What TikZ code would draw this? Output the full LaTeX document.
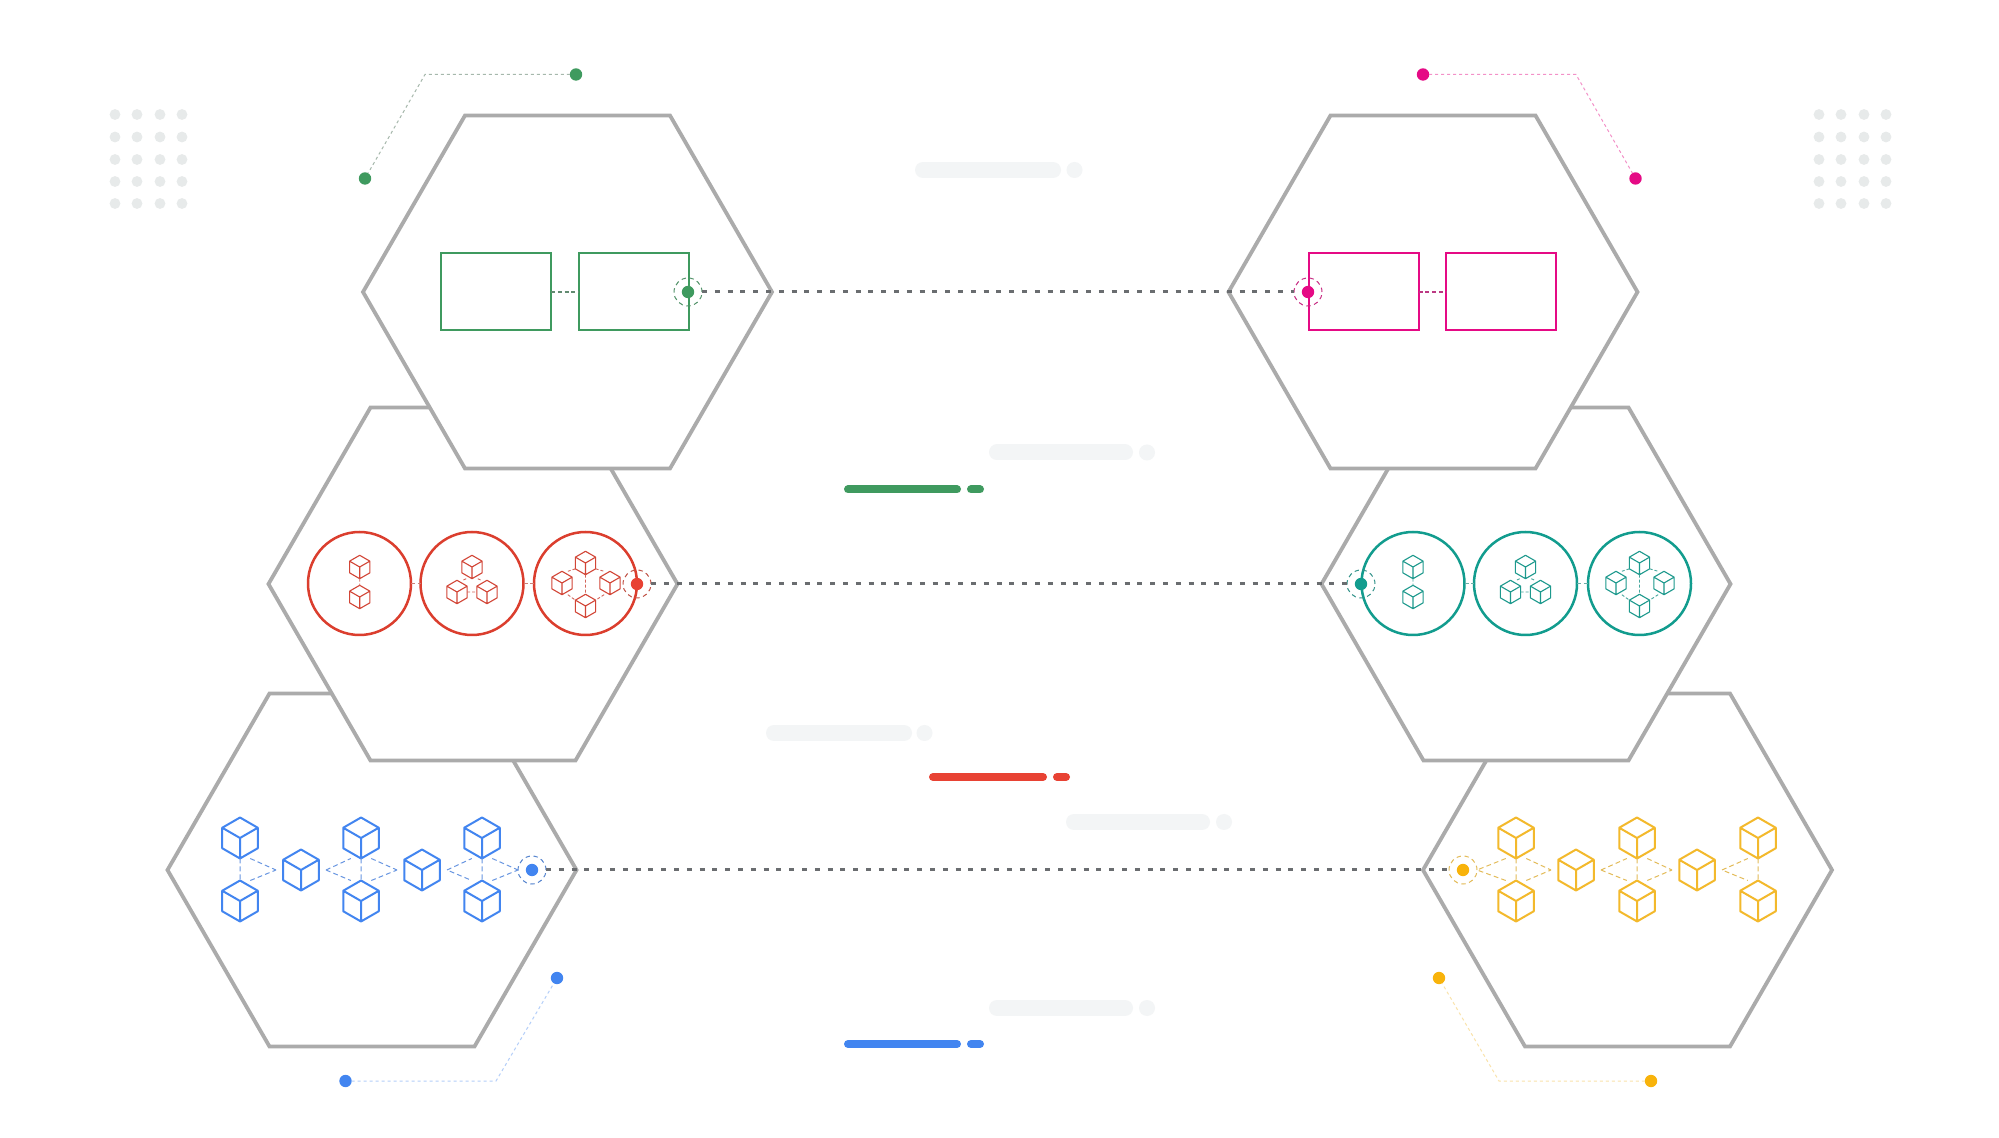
\documentclass[tikz,border=0pt]{standalone}
\usetikzlibrary{calc}
\definecolor{hexgray}{HTML}{ABABAB}
\definecolor{midline}{HTML}{6A6D70}
\definecolor{pale}{HTML}{F3F5F6}
\definecolor{griddot}{HTML}{E7EAEA}
\definecolor{cgreen}{HTML}{3F9A5F}
\definecolor{cpink}{HTML}{E50A85}
\definecolor{cred}{HTML}{DB3E2E}
\definecolor{cbright}{HTML}{E84233}
\definecolor{cteal}{HTML}{129C8E}
\definecolor{cblue}{HTML}{4285F0}
\definecolor{cyellow}{HTML}{F3B92C}
\definecolor{cgold}{HTML}{F8B30B}
\tikzset{
  x=0.5pt,y=-0.5pt,
  hexa/.style={draw=hexgray,line width=1.9pt,fill=white,miter limit=10},
  pipe/.style={draw=midline,line width=1.5pt,dash pattern=on 2.5pt off 3.9pt},
  dotnode/.style={circle,fill=#1,draw=none,inner sep=0pt,outer sep=0pt,minimum size=6.2pt},
  ringnode/.style={circle,draw=#1,line width=.5pt,dash pattern=on 2.2pt off 1.8pt,inner sep=0pt,outer sep=0pt,minimum size=14pt},
  boxnode/.style={draw=#1,line width=1pt,inner sep=0pt,outer sep=0pt,minimum width=55pt,minimum height=38.5pt},
  roundnode/.style={circle,draw=#1,line width=1.25pt,inner sep=0pt,outer sep=0pt,minimum size=51.5pt},
  callout/.style={draw=#1,line width=.5pt,dash pattern=on 1.5pt off 1.5pt},
  link/.style={draw=#1,line width=.6pt,dash pattern=on 2pt off 1.4pt},
  griddotfill/.style={fill=griddot,draw=none},
  pics/cubeicon/.style n args={3}{code={
    \def\rr{#1}
    \coordinate (-n) at (0,-\rr);
    \coordinate (-s) at (0,\rr);
    \coordinate (-ne) at (.866*\rr,-.5*\rr);
    \coordinate (-se) at (.866*\rr,.5*\rr);
    \coordinate (-nw) at (-.866*\rr,-.5*\rr);
    \coordinate (-sw) at (-.866*\rr,.5*\rr);
    \coordinate (-tl) at (-.5*\rr,-\rr);
    \coordinate (-tr) at (.5*\rr,-\rr);
    \coordinate (-bl) at (-.5*\rr,\rr);
    \coordinate (-br) at (.5*\rr,\rr);
    \coordinate (-w) at (-1.22*\rr,0);
    \coordinate (-e) at (1.22*\rr,0);
    \coordinate (-iw) at (-.866*\rr,0);
    \coordinate (-ie) at (.866*\rr,0);
    \draw[#2,line width=#3,line join=round]
      (-n) -- (-ne) -- (-se) -- (-s) -- (-sw) -- (-nw) -- cycle
      (-nw) -- (0,0) -- (-ne) (0,0) -- (-s);
  }},
}
\newcommand{\hexat}[2]{\begin{scope}[shift={(#1,#2)}]
  \draw[hexa] (-204.5,0) -- (-102.5,-176.5) -- (102.5,-176.5) -- (204.5,0) -- (102.5,176.5) -- (-102.5,176.5) -- cycle;
\end{scope}}
\newcommand{\pillbar}[5]{\draw[#5,line cap=round,line width=#4*.5pt] ({#1+#4/2},#3) -- ({#2-#4/2},#3);}
\begin{document}
\begin{tikzpicture}
\useasboundingbox (0,0) rectangle (1999,1138);
\fill[white] (0,0) rectangle (1999,1138);

% dot grids
\foreach \gx in {115,137,160,182,1819,1841,1864,1886}
  \foreach \gy in {114.5,137,159.5,181.5,203.5}
    \fill[griddotfill] (\gx,\gy) circle (2.7pt);

% hexagons, lowest first
\hexat{372}{870}
\hexat{1627.5}{870}
\hexat{473}{584}
\hexat{1526}{584}
\hexat{567.5}{292}
\hexat{1433}{292}

% pale pills
\pillbar{915}{1061}{170}{16}{pale}
\fill[pale] (1074.5,170) circle (4pt);
\pillbar{989}{1133}{452.5}{16}{pale}
\fill[pale] (1147,452.5) circle (4pt);
\pillbar{766}{912}{733}{16}{pale}
\fill[pale] (924.5,733) circle (4pt);
\pillbar{1066}{1210}{822}{16}{pale}
\fill[pale] (1224,822) circle (4pt);
\pillbar{989}{1133}{1008}{16}{pale}
\fill[pale] (1147,1008) circle (4pt);

% coloured bars
\pillbar{844}{961}{489.5}{8}{cgreen}
\pillbar{967}{984}{489.5}{8}{cgreen}
\pillbar{929}{1047}{777}{8}{cbright}
\pillbar{1053}{1070}{777}{8}{cbright}
\pillbar{844}{961}{1044}{8}{cblue}
\pillbar{967}{984}{1044}{8}{cblue}

% top row: boxes
\node[boxnode=cgreen] (g1) at (496,292) {};
\node[boxnode=cgreen] (g2) at (633.5,292) {};
\node[boxnode=cpink] (p1) at (1363.5,292) {};
\node[boxnode=cpink] (p2) at (1501,292) {};
\draw[link=cgreen!45!gray] (g1) -- (g2);
\draw[link=cpink!60!gray] (p1) -- (p2);

% middle row: circles
\node[roundnode=cred] (r1) at (359.5,583.5) {};
\node[roundnode=cred] (r2) at (472,583.5) {};
\node[roundnode=cred] (r3) at (585.5,583.5) {};
\node[roundnode=cteal] (t1) at (1413,583.5) {};
\node[roundnode=cteal] (t2) at (1525.5,583.5) {};
\node[roundnode=cteal] (t3) at (1639.5,583.5) {};
\draw[link=cred!50!lightgray] (r1) -- (r2);
\draw[link=cred!50!lightgray] (r2) -- (r3);
\draw[link=cteal!50!lightgray] (t1) -- (t2);
\draw[link=cteal!50!lightgray] (t2) -- (t3);

% small cube clusters
\foreach \col/\pre/\cb/\cc/\cd in {cred/r/359.7/472/585.5,cteal/t/1413/1525.5/1639.5}{
  \pic (\pre A) at (\cb,567) {cubeicon={11.7}{\col!90!gray}{.55pt}};
  \pic (\pre B) at (\cb,597) {cubeicon={11.7}{\col!90!gray}{.55pt}};
  \pic (\pre C) at (\cc,567) {cubeicon={11.7}{\col!90!gray}{.55pt}};
  \pic (\pre D) at ({\cc-15},592) {cubeicon={11.7}{\col!90!gray}{.55pt}};
  \pic (\pre E) at ({\cc+15},592) {cubeicon={11.7}{\col!90!gray}{.55pt}};
  \pic (\pre F) at (\cd,563) {cubeicon={11.7}{\col!90!gray}{.55pt}};
  \pic (\pre G) at ({\cd-23.5},583) {cubeicon={11.7}{\col!90!gray}{.55pt}};
  \pic (\pre H) at ({\cd+24.5},583) {cubeicon={11.7}{\col!90!gray}{.55pt}};
  \pic (\pre I) at (\cd,606) {cubeicon={11.7}{\col!90!gray}{.55pt}};
  \draw[\col!70!lightgray,line width=.45pt,dash pattern=on 1.5pt off 1pt]
    (\pre A-s) -- (\pre B-n)
    (\pre C-bl) -- (\pre D-tr) (\pre C-br) -- (\pre E-tl) (\pre D-ie) -- (\pre E-iw)
    (\pre F-sw) -- (\pre G-tr) (\pre F-se) -- (\pre H-tl)
    (\pre G-br) -- (\pre I-nw) (\pre H-bl) -- (\pre I-ne) (\pre F-s) -- (\pre I-n);
}

% rings and their dots
\node[ringnode=cgreen!70!gray] (gr) at (688,292) {};
\node[dotnode=cgreen] (gd) at (688,292) {};
\node[ringnode=cpink!70!gray] (pr) at (1308,292) {};
\node[dotnode=cpink] (pd) at (1308,292) {};
\node[ringnode=cred!70!gray] (rr) at (637,584) {};
\node[dotnode=cbright] (rd) at (637,584) {};
\node[ringnode=cteal!70!gray] (tr) at (1361,584) {};
\node[dotnode=cteal] (td) at (1361,584) {};
\node[ringnode=cblue!70!gray] (br) at (532,870) {};
\node[dotnode=cblue] (bd) at (532,870) {};
\node[ringnode=cyellow!70!lightgray] (yr) at (1463,870) {};
\node[dotnode=cgold] (yd) at (1463,870) {};

% large cube chains
\foreach \col/\pre/\xa/\xb/\xc/\xd/\xe/\rng in {cblue/b/240/301/361/422/482/br,cyellow/y/1516/1576/1637/1697/1758/yr}{
  \pic (\pre A) at (\xa,838) {cubeicon={20.5}{\col}{1pt}};
  \pic (\pre B) at (\xa,901) {cubeicon={20.5}{\col}{1pt}};
  \pic (\pre C) at (\xb,870) {cubeicon={20.5}{\col}{1pt}};
  \pic (\pre D) at (\xc,838) {cubeicon={20.5}{\col}{1pt}};
  \pic (\pre E) at (\xc,901) {cubeicon={20.5}{\col}{1pt}};
  \pic (\pre F) at (\xd,870) {cubeicon={20.5}{\col}{1pt}};
  \pic (\pre G) at (\xe,838) {cubeicon={20.5}{\col}{1pt}};
  \pic (\pre H) at (\xe,901) {cubeicon={20.5}{\col}{1pt}};
  \draw[\col!70!lightgray,line width=.5pt,dash pattern=on 2.4pt off 1.6pt,shorten <=1.5pt]
    (\pre A-s) -- (\pre B-n) (\pre D-s) -- (\pre E-n) (\pre G-s) -- (\pre H-n)
    (\pre A-br) -- (\pre C-w) (\pre B-tr) -- (\pre C-w)
    (\pre C-e) -- (\pre D-bl) (\pre C-e) -- (\pre E-tl)
    (\pre D-br) -- (\pre F-w) (\pre E-tr) -- (\pre F-w)
    (\pre F-e) -- (\pre G-bl) (\pre F-e) -- (\pre H-tl);
}
\draw[cblue!70!lightgray,line width=.5pt,dash pattern=on 2.4pt off 1.6pt]
  (bG-br) -- (br.west) (bH-tr) -- (br.west);
\draw[cyellow!70!lightgray,line width=.5pt,dash pattern=on 2.4pt off 1.6pt]
  (yA-bl) -- (yr.east) (yB-tl) -- (yr.east);

% dotted pipes across the middle
\draw[pipe] (gr.east) -- (pr.west);
\draw[pipe] (rr.east) -- (tr.west);
\draw[pipe] (br.east) -- (yr.west);

% call-outs
\node[dotnode=cgreen] (ga) at (576,74.5) {};
\node[dotnode=cgreen] (gb) at (365,178.5) {};
\coordinate (gc) at (425,74.5);
\draw[callout=cgreen!20!lightgray] (ga) -- (gc) -- (gb);
\node[dotnode=cpink] (pa) at (1423,74.5) {};
\node[dotnode=cpink] (pb) at (1635.5,178.5) {};
\coordinate (pc) at (1576,74.5);
\draw[callout=cpink!45!white] (pa) -- (pc) -- (pb);
\node[dotnode=cblue] (ba) at (345.5,1081) {};
\node[dotnode=cblue] (bb) at (557,978) {};
\coordinate (bc) at (496,1081);
\draw[callout=cblue!40!white] (ba) -- (bc) -- (bb);
\node[dotnode=cgold] (ya) at (1651,1081) {};
\node[dotnode=cgold] (yb) at (1439,978) {};
\coordinate (yc) at (1499,1081);
\draw[callout=cyellow!40!white] (ya) -- (yc) -- (yb);
\end{tikzpicture}
\end{document}
